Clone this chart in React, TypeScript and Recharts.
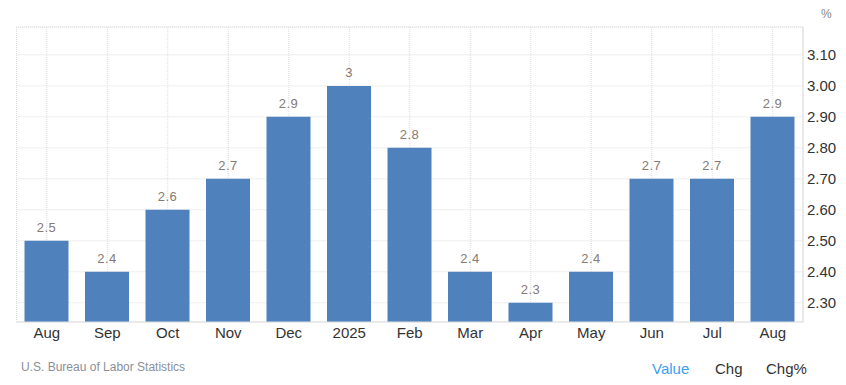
import React from 'react';
import { BarChart, Bar, XAxis, YAxis, CartesianGrid, LabelList, ReferenceLine } from 'recharts';

const months = ['Aug', 'Sep', 'Oct', 'Nov', 'Dec', '2025', 'Feb', 'Mar', 'Apr', 'May', 'Jun', 'Jul', 'Aug'];
const values = [2.5, 2.4, 2.6, 2.7, 2.9, 3, 2.8, 2.4, 2.3, 2.4, 2.7, 2.7, 2.9];
const yTicks = [2.3, 2.4, 2.5, 2.6, 2.7, 2.8, 2.9, 3.0, 3.1];
const yMin = 2.238;
const yMax = 3.19;

const data = months.map((m, i) => ({ key: `${m}-${i}`, month: m, value: values[i] }));

const font = 'Arial, "Liberation Sans", sans-serif';

export default function App() {
  return (
    <div style={{ position: 'absolute', left: 0, top: 0, width: 846, height: 385, fontFamily: font, background: '#fff' }}>
      <BarChart
        width={846}
        height={345}
        data={data}
        margin={{ top: 27, right: 0, bottom: 0, left: 16.5 }}
      >
        <CartesianGrid stroke="#dcdcdc" strokeDasharray="1 1" horizontal vertical yAxisId="r" />
        <XAxis
          dataKey="key"
          tickFormatter={(k: string) => k.split('-')[0]}
          height={23}
          tickSize={0}
          tickMargin={5}
          axisLine={{ stroke: '#dddddd' }}
          tickLine={false}
          tick={{ fontSize: 15, fill: '#333', fontFamily: font }}
          interval={0}
        />
        <YAxis yAxisId="l" orientation="left" width={0} domain={[yMin, yMax]} tick={false} tickLine={false} axisLine={{ stroke: '#d6d6d6' }} />
        <YAxis
          yAxisId="r"
          orientation="right"
          width={43}
          domain={[yMin, yMax]}
          ticks={yTicks}
          allowDataOverflow
          tickFormatter={(v: number) => v.toFixed(2)}
          tickSize={0}
          tickMargin={4}
          tickLine={false}
          axisLine={{ stroke: '#dddddd' }}
          tick={{ fontSize: 15, fill: '#333', fontFamily: font }}
        />
        <ReferenceLine yAxisId="r" y={yMax} stroke="#dcdcdc" strokeDasharray="1 1" />
        <Bar yAxisId="r" dataKey="value" fill="#4f81bd" barSize={44} isAnimationActive={false}>
          <LabelList
            dataKey="value"
            position="top"
            offset={9}
            formatter={(v: number) => String(v)}
            style={{ fontSize: 13, fill: '#857b74', fontFamily: font, letterSpacing: 0.5 }}
          />
        </Bar>
      </BarChart>
      <div style={{ position: 'absolute', left: 821, top: 7, fontSize: 12, color: '#888' }}>%</div>
      <div style={{ position: 'absolute', left: 21, top: 360, fontSize: 12, color: '#8a8f99' }}>U.S. Bureau of Labor Statistics</div>
      <div style={{ position: 'absolute', left: 652, top: 360, fontSize: 15, color: '#3a9ff5' }}>Value</div>
      <div style={{ position: 'absolute', left: 715, top: 360, fontSize: 15, color: '#333' }}>Chg</div>
      <div style={{ position: 'absolute', left: 766, top: 360, fontSize: 15, color: '#333' }}>Chg%</div>
    </div>
  );
}
